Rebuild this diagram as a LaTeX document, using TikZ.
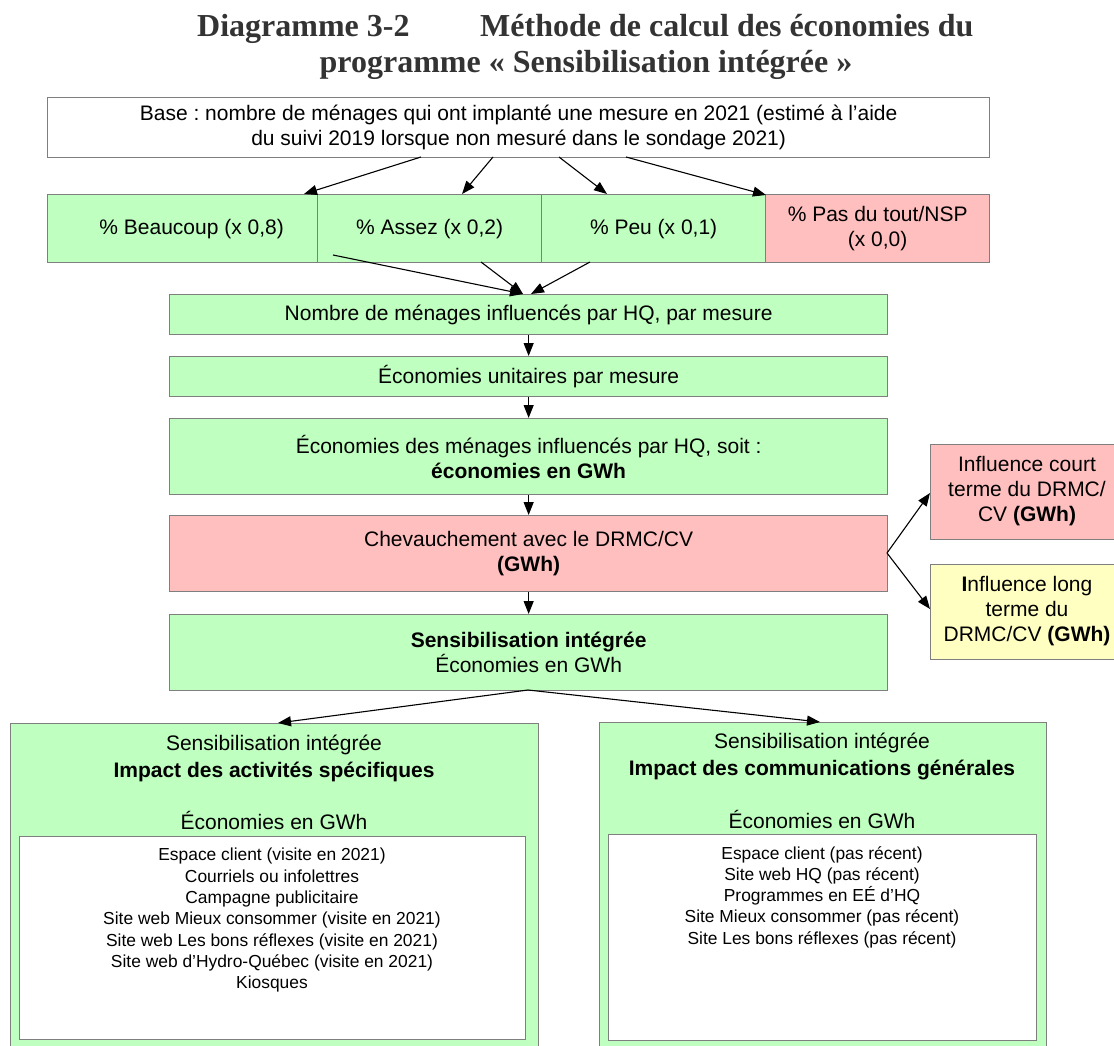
\documentclass[tikz,border=0pt]{standalone}
\usepackage{fontspec}
\setmainfont{Liberation Sans}
\newfontfamily\titlefont{Liberation Serif}
\usetikzlibrary{arrows.meta}
\frenchspacing

\definecolor{boxgreen}{HTML}{BFFFBF}
\definecolor{boxpink}{HTML}{FFBFBF}
\definecolor{boxyellow}{HTML}{FFFFC2}
\definecolor{boxline}{HTML}{7F7F7F}
\definecolor{titlegray}{HTML}{333333}

\begin{document}
\begin{tikzpicture}[x=1pt,y=-1pt,
  box/.style={draw=boxline, line width=1.3pt, inner sep=0pt, anchor=north west,
    align=center, font=\fontsize{21}{25}\selectfont},
  txt/.style={inner sep=0pt, align=center, font=\fontsize{21}{25}\selectfont},
  listtxt/.style={inner sep=0pt, align=center, anchor=north,
    font=\fontsize{17.4}{21.3}\selectfont},
  flow/.style={-{Triangle[length=13pt,width=10pt]}, line width=1.1pt, black},
  titletxt/.style={inner sep=0pt, text=titlegray,
    font=\titlefont\bfseries\fontsize{32}{36}\selectfont}
]
\useasboundingbox (0,0) rectangle (1114,1046);
\clip (0,0) rectangle (1114,1046);

% heading
\node[titletxt, anchor=base west] (t1) at (197,37) {Diagramme 3-2};
\node[titletxt, anchor=base west] (t2) at (480,37) {Méthode de calcul des économies du};
\node[titletxt, anchor=base] (t3) at (586,73) {programme « Sensibilisation intégrée »};

% base
\node[box, fill=white, minimum width=942pt, minimum height=60pt] (base) at (47,97)
  {Base : nombre de ménages qui ont implanté une mesure en 2021 (estimé à l’aide\\
   du suivi 2019 lorsque non mesuré dans le sondage 2021)};

% levels of influence
\node[box, fill=boxgreen, minimum width=270pt, minimum height=68pt] (beau) at (47,194)
  {\hspace*{18pt}\% Beaucoup (x 0,8)};
\node[box, fill=boxgreen, minimum width=224pt, minimum height=68pt] (assez) at (317,194)
  {\% Assez (x 0,2)};
\node[box, fill=boxgreen, minimum width=224pt, minimum height=68pt] (peu) at (541,194)
  {\% Peu (x 0,1)};
\node[box, fill=boxpink, minimum width=224pt, minimum height=68pt] (pas) at (765,194)
  {\% Pas du tout/NSP\\(x 0,0)};

% main chain
\node[box, fill=boxgreen, minimum width=718pt, minimum height=40pt] (nombre) at (169,294)
  {Nombre de ménages influencés par HQ, par mesure};
\node[box, fill=boxgreen, minimum width=718pt, minimum height=40pt] (unit) at (169,356)
  {Économies unitaires par mesure};
\node[box, fill=boxgreen, minimum width=718pt, minimum height=76pt] (econ) at (169,418)
  {Économies des ménages influencés par HQ, soit :\\\textbf{économies en GWh}};
\node[box, fill=boxpink, minimum width=718pt, minimum height=76pt] (chev) at (169,515)
  {Chevauchement avec le DRMC/CV\\\textbf{(GWh)}};
\node[box, fill=boxgreen, minimum width=718pt, minimum height=76pt] (sens) at (169,614)
  {\textbf{Sensibilisation intégrée}\\Économies en GWh};

% DRMC/CV influence
\node[box, fill=boxpink, minimum width=195pt, minimum height=95pt] (court) at (930,444)
  {};
\node[txt] (courttxt) at (1027,491) {Influence court\\terme du DRMC/\\CV \textbf{(GWh)}};
\node[box, fill=boxyellow, minimum width=195pt, minimum height=95pt] (long) at (930,564)
  {};
\node[txt] (longtxt) at (1027,611) {\textbf{I}nfluence long\\terme du\\DRMC/CV \textbf{(GWh)}};

% specific activities
\node[box, fill=boxgreen, minimum width=528pt, minimum height=340pt] (spec) at (10,723) {};
\node[txt] (spech1) at (274,745) {Sensibilisation intégrée};
\node[txt] (spech2) at (274,772) {\textbf{Impact des activités spécifiques}};
\node[txt] (spech3) at (274,820) {Économies en GWh};
\node[box, fill=white, minimum width=506pt, minimum height=203pt] (speclist) at (19,836) {};
\node[listtxt] (speclisttxt) at (272,848)
  {Espace client (visite en 2021)\\
   Courriels ou infolettres\\
   Campagne publicitaire\\
   Site web Mieux consommer (visite en 2021)\\
   Site web Les bons réflexes (visite en 2021)\\
   Site web d’Hydro-Québec (visite en 2021)\\
   Kiosques};

% general communications
\node[box, fill=boxgreen, minimum width=447pt, minimum height=340pt] (gen) at (599,722) {};
\node[txt] (genh1) at (822,743) {Sensibilisation intégrée};
\node[txt] (genh2) at (822,770) {\textbf{Impact des communications générales}};
\node[txt] (genh3) at (822,819) {Économies en GWh};
\node[box, fill=white, minimum width=428pt, minimum height=206pt] (genlist) at (608,834) {};
\node[listtxt] (genlisttxt) at (822,846)
  {Espace client (pas récent)\\
   Site web HQ (pas récent)\\
   Programmes en EÉ d’HQ\\
   Site Mieux consommer (pas récent)\\
   Site Les bons réflexes (pas récent)};

% anchor points for connectors
\coordinate (b1) at (421,157);
\coordinate (b2) at (493,157);
\coordinate (b3) at (559,157);
\coordinate (b4) at (626,157);
\coordinate (r1) at (333,255);
\coordinate (r2) at (481,262);
\coordinate (r3) at (590,262);
\coordinate (n1) at (523,294);
\coordinate (n2) at (531,294);
\coordinate (cv) at (887,553);
\coordinate (sb) at (528,690);

% connectors
\draw[flow] (b1) -- (beau.north east -| 304,0);
\draw[flow] (b2) -- (462,194);
\draw[flow] (b3) -- (607,194);
\draw[flow] (b4) -- (766,195);
\draw[flow] (r1) -- (n1);
\draw[flow] (r2) -- (n1);
\draw[flow] (r3) -- (n2);
\draw[flow] (nombre.south) -- (unit.north);
\draw[flow] (unit.south) -- (econ.north);
\draw[flow] (econ.south) -- (chev.north);
\draw[flow] (chev.south) -- (sens.north);
\draw[flow] (cv) -- (court.west |- 0,493);
\draw[flow] (cv) -- (long.west |- 0,609);
\draw[flow] (sb) -- (spec.north -| 278,0);
\draw[flow] (sb) -- (gen.north -| 820,0);
\end{tikzpicture}
\end{document}
